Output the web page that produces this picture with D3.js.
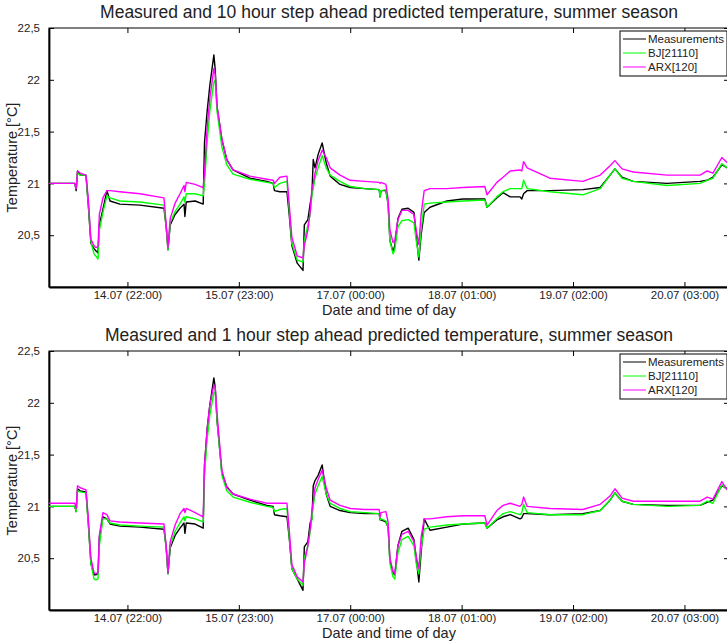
<!DOCTYPE html>
<html>
<head>
<meta charset="utf-8">
<script src="https://cdn.jsdelivr.net/npm/d3@7"></script>
<style>
  body { margin: 0; background: #fff; }
  text { font-family: "Liberation Sans", Arial, sans-serif; fill: #222; }
</style>
</head>
<body>
<div id="chart"></div>
<script>
// hours since 14.07 04:24 (start of record)
let hours = [0, 5.8, 6.1, 6.4, 7.0, 8.3, 8.8, 9.4, 10.1, 10.5, 11.0, 11.3, 12.1, 13.0, 13.7, 15.9, 20.4,
  25.8, 26.3, 26.7, 27.2, 28.3, 29.4, 30.3, 30.5, 30.8, 32.8, 34.6, 34.9, 35.5, 36.1, 37.0, 37.3, 37.7,
  38.8, 39.9, 41.3, 45.1, 48.9, 50.3, 50.6, 51.8, 53.4, 53.9, 54.5, 55.7, 57.0, 57.3, 58.1, 58.6, 59.0,
  59.3, 59.7, 60.4, 61.3, 62.2, 63.1, 65.3, 67.6, 70.9, 74.1, 74.3, 74.5, 75.6, 76.1, 76.5, 77.2, 77.6,
  78.3, 79.2, 80.6, 81.9, 82.4, 83.0, 83.5, 84.2, 85.5, 89.3, 92.9, 97.8, 98.3, 100.5, 101.9, 103.5,
  105.7, 106.1, 106.5, 107.3, 112.4, 119.8, 123.7, 125.9, 127.0, 128.6, 131.1, 138.7, 146.1, 147.7,
  149.0, 151.0, 152.2];

// 10 hour step ahead
let meas10 = [21.00, 21.00, 20.93, 21.12, 21.08, 21.08, 20.80, 20.42, 20.37, 20.35, 20.33, 20.60, 20.75, 20.93, 20.83, 20.80, 20.79,
  20.76, 20.58, 20.36, 20.60, 20.70, 20.76, 20.80, 20.68, 20.82, 20.83, 20.80, 21.40, 21.70, 21.95, 22.24, 22.10, 21.74,
  21.42, 21.23, 21.13, 21.05, 21.02, 21.00, 20.93, 20.92, 20.92, 20.70, 20.40, 20.23, 20.16, 20.60, 20.65, 20.80, 20.90,
  21.23, 21.15, 21.28, 21.39, 21.20, 21.07, 20.99, 20.96, 20.95, 20.94, 20.87, 20.93, 20.93, 20.80, 20.45, 20.34, 20.40,
  20.66, 20.75, 20.76, 20.72, 20.50, 20.26, 20.50, 20.72, 20.77, 20.83, 20.85, 20.85, 20.77, 20.86, 20.91, 20.87,
  20.87, 20.85, 20.90, 20.93, 20.93, 20.94, 20.96, 21.08, 21.14, 21.06, 21.02, 21.00, 21.02, 21.03,
  21.06, 21.18, 21.15];
let bj10 = [21.00, 21.00, 20.95, 21.10, 21.08, 21.08, 20.82, 20.44, 20.32, 20.30, 20.27, 20.55, 20.72, 20.88, 20.86, 20.83, 20.82,
  20.79, 20.58, 20.36, 20.62, 20.73, 20.80, 20.87, 20.82, 20.90, 20.90, 20.88, 21.00, 21.40, 21.70, 21.98, 22.00, 21.70,
  21.35, 21.18, 21.09, 21.04, 21.01, 21.00, 20.96, 21.00, 21.02, 20.75, 20.42, 20.26, 20.24, 20.45, 20.60, 20.70, 20.88,
  20.95, 21.05, 21.15, 21.27, 21.15, 21.08, 21.02, 20.97, 20.95, 20.94, 20.87, 20.93, 20.94, 20.80, 20.45, 20.32, 20.36,
  20.58, 20.64, 20.65, 20.62, 20.45, 20.29, 20.55, 20.80, 20.81, 20.82, 20.83, 20.84, 20.77, 20.87, 20.92, 20.95,
  20.95, 20.95, 21.03, 20.95, 20.92, 20.89, 20.95, 21.08, 21.14, 21.05, 21.02, 20.98, 21.00, 21.03,
  21.05, 21.19, 21.15];
let arx10 = [21.00, 21.00, 20.95, 21.12, 21.10, 21.08, 20.86, 20.46, 20.40, 20.38, 20.39, 20.70, 20.86, 20.93, 20.93, 20.92, 20.90,
  20.86, 20.60, 20.38, 20.66, 20.81, 20.90, 20.98, 20.92, 21.01, 20.99, 20.96, 21.10, 21.55, 21.82, 22.11, 22.05, 21.75,
  21.43, 21.23, 21.13, 21.07, 21.04, 21.03, 21.00, 21.06, 21.07, 20.80, 20.48, 20.30, 20.28, 20.40, 20.55, 20.72, 20.95,
  21.00, 21.10, 21.22, 21.32, 21.25, 21.15, 21.08, 21.03, 21.02, 21.01, 21.00, 21.01, 20.99, 20.85, 20.55, 20.43, 20.45,
  20.65, 20.74, 20.74, 20.70, 20.55, 20.41, 20.70, 20.93, 20.95, 20.95, 20.96, 20.97, 20.89, 21.01, 21.06, 21.12,
  21.13, 21.12, 21.21, 21.15, 21.05, 21.02, 21.08, 21.17, 21.22, 21.14, 21.11, 21.08, 21.08, 21.12,
  21.10, 21.25, 21.20];

// 1 hour step ahead
let meas1 = [21.00, 21.00, 20.95, 21.17, 21.15, 21.14, 20.85, 20.45, 20.34, 20.34, 20.35, 20.70, 20.90, 20.88, 20.83, 20.81, 20.80,
  20.78, 20.60, 20.35, 20.60, 20.72, 20.79, 20.84, 20.74, 20.84, 20.83, 20.79, 21.40, 21.75, 21.98, 22.24, 22.15, 21.83,
  21.32, 21.19, 21.12, 21.06, 21.01, 21.00, 20.92, 20.91, 20.90, 20.70, 20.40, 20.30, 20.19, 20.61, 20.66, 20.84, 20.88,
  21.20, 21.25, 21.30, 21.40, 21.12, 21.00, 20.96, 20.94, 20.93, 20.93, 20.87, 20.87, 20.85, 20.80, 20.48, 20.36, 20.34,
  20.62, 20.76, 20.79, 20.68, 20.50, 20.27, 20.55, 20.88, 20.77, 20.80, 20.83, 20.84, 20.79, 20.87, 20.90, 20.92,
  20.88, 20.89, 20.93, 20.93, 20.92, 20.93, 20.96, 21.06, 21.13, 21.05, 21.02, 21.01, 21.01, 21.04,
  21.06, 21.20, 21.17];
let bj1 = [21.00, 21.00, 20.95, 21.15, 21.14, 21.13, 20.85, 20.45, 20.30, 20.29, 20.30, 20.62, 20.88, 20.88, 20.84, 20.82, 20.81,
  20.80, 20.60, 20.35, 20.62, 20.76, 20.84, 20.90, 20.86, 20.90, 20.88, 20.85, 21.30, 21.65, 21.88, 22.10, 22.10, 21.85,
  21.30, 21.15, 21.09, 21.04, 21.00, 20.99, 20.95, 20.97, 20.98, 20.72, 20.40, 20.30, 20.24, 20.50, 20.62, 20.75, 20.88,
  21.00, 21.12, 21.20, 21.29, 21.12, 21.03, 20.98, 20.95, 20.94, 20.93, 20.87, 20.88, 20.86, 20.80, 20.45, 20.32, 20.30,
  20.55, 20.68, 20.71, 20.62, 20.45, 20.35, 20.60, 20.78, 20.80, 20.82, 20.83, 20.84, 20.79, 20.88, 20.93, 20.95,
  20.92, 20.94, 21.02, 20.94, 20.92, 20.92, 20.96, 21.06, 21.13, 21.05, 21.02, 21.00, 21.01, 21.05,
  21.03, 21.21, 21.16];
let arx1 = [21.03, 21.03, 20.98, 21.20, 21.18, 21.16, 20.90, 20.50, 20.36, 20.35, 20.36, 20.72, 20.94, 20.92, 20.86, 20.85, 20.84,
  20.83, 20.62, 20.36, 20.66, 20.82, 20.93, 20.98, 20.94, 20.98, 20.94, 20.90, 21.40, 21.75, 21.98, 22.17, 22.15, 21.90,
  21.35, 21.18, 21.12, 21.07, 21.03, 21.03, 21.03, 21.03, 21.03, 20.78, 20.44, 20.32, 20.27, 20.45, 20.62, 20.78, 20.95,
  21.05, 21.18, 21.26, 21.35, 21.18, 21.06, 21.01, 20.98, 20.97, 20.97, 20.90, 20.94, 20.95, 20.85, 20.50, 20.37, 20.35,
  20.62, 20.73, 20.76, 20.66, 20.52, 20.40, 20.70, 20.88, 20.88, 20.90, 20.91, 20.91, 20.82, 20.96, 21.01, 21.03,
  21.00, 21.02, 21.09, 21.00, 20.98, 20.97, 21.02, 21.10, 21.17, 21.08, 21.05, 21.05, 21.05, 21.09,
  21.07, 21.24, 21.16];

let titles = ["Measured and 10 hour step ahead predicted temperature, summer season",
              "Measured and 1 hour step ahead predicted temperature, summer season"];
let seriesNames = ["Measurements", "BJ[21110]", "ARX[120]"];
let seriesColors = ["#000000", "#00ff00", "#ff00ff"];
let yTicks = [20.5, 21, 21.5, 22, 22.5];
let xTickLabels = ["14.07 (22:00)", "15.07 (23:00)", "17.07 (00:00)", "18.07 (01:00)", "19.07 (02:00)", "20.07 (03:00)"];

let width = 727;
let height = 642;
let parseTick = d3.timeParse("%d.%m (%H:%M)");
let fmtTick = d3.timeFormat("%d.%m (%H:%M)");
let start = d3.timeParse("%d.%m %H:%M")("14.07 04:24");
let toDate = function (h) { return d3.timeMinute.offset(start, Math.round(h * 60)); };

let svg = d3.select("#chart")
    .append("svg")
    .attr("width", width)
    .attr("height", height);

let x = d3.scaleTime()
    .domain([start, toDate(152.6)])
    .range([49, 729]);

let panels = [[meas10, bj10, arx10], [meas1, bj1, arx1]];

panels.forEach(function (series, p) {
    let oy = p * 323;
    let top = 28 + oy, bottom = 287 + oy;
    let y = d3.scaleLinear().domain([20, 22.5]).range([bottom, top]);
    let g = svg.append("g");

    g.append("clipPath").attr("id", "clip" + p)
        .append("rect").attr("x", 49).attr("y", top).attr("width", 680).attr("height", bottom - top);

    // frame
    g.append("rect")
        .attr("x", 49).attr("y", top).attr("width", 680).attr("height", bottom - top)
        .attr("fill", "none").attr("stroke", "#000").attr("stroke-width", 1);

    let xTicks = xTickLabels.map(parseTick);

    // bottom axis, inward ticks
    let xb = g.append("g").attr("transform", "translate(0," + bottom + ")")
        .call(d3.axisBottom(x).tickValues(xTicks).tickSizeInner(-5).tickSizeOuter(0).tickPadding(4).tickFormat(fmtTick));
    xb.select(".domain").attr("stroke-width", 1.8);
    xb.selectAll("text").attr("font-size", "11.5px").attr("fill", "#222")
        .attr("font-family", "Liberation Sans, Arial, sans-serif");
    // top axis ticks
    let xt = g.append("g").attr("transform", "translate(0," + top + ")")
        .call(d3.axisTop(x).tickValues(xTicks).tickSizeInner(-5).tickSizeOuter(0).tickFormat(""));
    xt.select(".domain").remove();

    // left axis
    let yl = g.append("g").attr("transform", "translate(49,0)")
        .call(d3.axisLeft(y).tickValues(yTicks).tickSizeInner(-5).tickSizeOuter(0).tickPadding(9)
            .tickFormat(function (d) { return String(d).replace(".", ","); }));
    yl.select(".domain").attr("stroke-width", 1.8);
    yl.selectAll("text").attr("font-size", "11.5px").attr("fill", "#222")
        .attr("font-family", "Liberation Sans, Arial, sans-serif");
    let yr = g.append("g").attr("transform", "translate(729,0)")
        .call(d3.axisRight(y).tickValues(yTicks).tickSizeInner(-5).tickSizeOuter(0).tickFormat(""));
    yr.select(".domain").remove();

    // lines
    let line = d3.line()
        .x(function (d, i) { return x(toDate(hours[i])); })
        .y(function (d) { return y(d); });
    series.forEach(function (vals, s) {
        g.append("path")
            .datum(vals)
            .attr("clip-path", "url(#clip" + p + ")")
            .attr("fill", "none")
            .attr("stroke", seriesColors[s])
            .attr("stroke-width", 1.4)
            .attr("stroke-linejoin", "round")
            .attr("d", line);
    });

    // title and labels
    g.append("text")
        .attr("x", 389).attr("y", 18 + oy)
        .attr("text-anchor", "middle").attr("font-size", "17.5px")
        .text(titles[p]);
    g.append("text")
        .attr("x", 389).attr("y", 315 + oy)
        .attr("text-anchor", "middle").attr("font-size", "14.5px")
        .text("Date and time of day");
    g.append("text")
        .attr("transform", "translate(17," + ((top + bottom) / 2) + ") rotate(-90)")
        .attr("text-anchor", "middle").attr("font-size", "14.5px")
        .text("Temperature [°C]");

    // legend
    let lg = g.append("g").attr("transform", "translate(620," + (31 + oy) + ")");
    lg.append("rect").attr("width", 107).attr("height", 45)
        .attr("fill", "#fff").attr("stroke", "#000").attr("stroke-width", 1);
    seriesNames.forEach(function (name, s) {
        let ly = 8 + s * 14;
        lg.append("line").attr("x1", 3).attr("x2", 26).attr("y1", ly).attr("y2", ly)
            .attr("stroke", seriesColors[s]).attr("stroke-width", 1);
        lg.append("text").attr("x", 28).attr("y", ly + 4)
            .attr("font-size", "11.5px").text(name);
    });
});
</script>
</body>
</html>
